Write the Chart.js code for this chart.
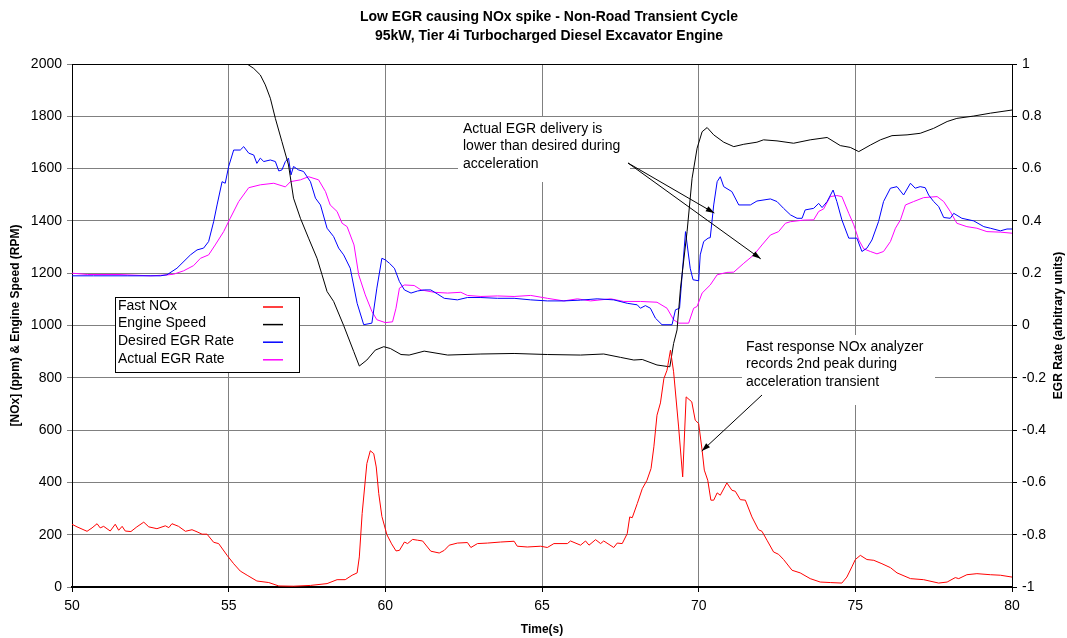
<!DOCTYPE html>
<html>
<head>
<meta charset="utf-8">
<script src="https://cdn.jsdelivr.net/npm/chart.js@4.4.0/dist/chart.umd.min.js"></script>
<style>
  body { margin: 0; background: #fff; }
  canvas { display: block; }
</style>
</head>
<body>
<canvas id="egr-chart" width="1067" height="638"></canvas>
<script>
// --- DATA ---
const titleLines = ['Low EGR causing NOx spike - Non-Road Transient Cycle', '95kW, Tier 4i Turbocharged Diesel Excavator Engine'];
const seriesNames = ['Fast NOx', 'Engine Speed', 'Desired EGR Rate', 'Actual EGR Rate'];
const seriesColors = ['#ff0000', '#000000', '#0000ff', '#ff00ff'];

// Fast NOx (ppm), left axis
const noxTime = [50.0, 50.16, 50.48, 50.64, 50.8, 50.9, 51.01, 51.22, 51.38, 51.49, 51.6, 51.7, 51.88, 52.07, 52.29, 52.45, 52.71, 52.98, 53.09, 53.19, 53.4, 53.62, 53.83, 53.99, 54.15, 54.31, 54.52, 54.68, 54.95, 55.16, 55.37, 55.59, 55.9, 56.28, 56.6, 57.07, 57.61, 58.14, 58.46, 58.72, 58.94, 59.1, 59.17, 59.26, 59.41, 59.52, 59.63, 59.71, 59.79, 59.89, 60.05, 60.2, 60.34, 60.45, 60.61, 60.71, 60.87, 61.03, 61.19, 61.45, 61.72, 61.88, 62.04, 62.3, 62.62, 62.73, 62.94, 63.26, 63.68, 64.11, 64.21, 64.53, 64.96, 65.17, 65.38, 65.81, 65.91, 66.23, 66.39, 66.5, 66.71, 66.87, 66.97, 67.29, 67.4, 67.56, 67.72, 67.8, 67.88, 68.04, 68.2, 68.35, 68.48, 68.57, 68.67, 68.78, 68.89, 68.99, 69.1, 69.2, 69.36, 69.49, 69.6, 69.78, 69.89, 70.0, 70.11, 70.18, 70.29, 70.39, 70.48, 70.59, 70.69, 70.9, 71.06, 71.17, 71.33, 71.49, 71.7, 71.91, 72.02, 72.18, 72.39, 72.55, 72.71, 72.98, 73.24, 73.56, 73.88, 74.2, 74.57, 74.73, 74.89, 75.0, 75.16, 75.37, 75.59, 75.85, 76.12, 76.33, 76.76, 77.18, 77.66, 77.93, 78.19, 78.3, 78.56, 78.88, 79.31, 79.63, 80.0];
const noxValues = [240, 230, 213, 226, 242, 226, 232, 214, 240, 217, 232, 214, 212, 230, 248, 230, 223, 234, 227, 242, 232, 213, 219, 211, 202, 202, 171, 166, 121, 89, 61, 45, 23, 17, 4, 3, 6, 13, 28, 28, 45, 54, 115, 281, 472, 521, 510, 459, 357, 270, 200, 165, 138, 140, 172, 166, 182, 179, 176, 137, 130, 140, 160, 168, 170, 151, 166, 168, 172, 175, 156, 153, 156, 151, 166, 166, 176, 160, 176, 160, 181, 166, 176, 151, 168, 166, 204, 268, 265, 319, 376, 408, 453, 536, 657, 704, 797, 829, 906, 823, 612, 421, 727, 708, 638, 625, 523, 447, 408, 332, 332, 360, 351, 398, 370, 366, 334, 332, 268, 219, 213, 179, 134, 125, 105, 64, 54, 32, 19, 17, 15, 38, 77, 105, 121, 105, 102, 89, 74, 54, 32, 28, 15, 19, 36, 32, 47, 51, 47, 45, 38];

// Engine speed (RPM), left axis
const speedTime = [55.3, 55.59, 55.8, 56.01, 56.17, 56.33, 56.49, 56.7, 56.91, 57.07, 57.29, 57.55, 57.82, 57.98, 58.14, 58.35, 58.67, 58.99, 59.17, 59.41, 59.68, 59.95, 60.16, 60.5, 60.76, 61.24, 61.99, 63.05, 64.11, 65.17, 66.23, 66.97, 67.51, 67.93, 68.2, 68.67, 69.08, 69.2, 69.31, 69.42, 69.63, 69.79, 69.95, 70.11, 70.27, 70.48, 70.8, 71.12, 71.44, 71.86, 72.07, 72.5, 73.03, 73.56, 74.1, 74.52, 74.84, 75.11, 75.48, 75.8, 76.17, 76.65, 77.07, 77.5, 77.93, 78.24, 78.78, 79.31, 80.0];
const speedValues = [2040, 2000, 1983, 1958, 1920, 1869, 1792, 1703, 1614, 1487, 1410, 1334, 1257, 1194, 1130, 1092, 1000, 901, 845, 868, 906, 919, 912, 889, 887, 902, 887, 891, 893, 889, 887, 891, 878, 868, 870, 849, 842, 931, 983, 1143, 1359, 1563, 1678, 1741, 1757, 1729, 1701, 1684, 1693, 1701, 1710, 1706, 1697, 1710, 1719, 1688, 1681, 1665, 1690, 1710, 1726, 1729, 1735, 1754, 1780, 1792, 1801, 1812, 1824];

// Desired EGR rate (arbitrary units), right axis
const desiredTime = [50.0, 50.69, 51.76, 52.82, 53.03, 53.35, 53.78, 53.99, 54.2, 54.36, 54.52, 54.63, 54.79, 54.89, 55.0, 55.16, 55.37, 55.48, 55.64, 55.8, 55.9, 56.01, 56.12, 56.33, 56.49, 56.6, 56.7, 56.81, 56.91, 56.99, 57.07, 57.23, 57.39, 57.61, 57.77, 57.93, 58.14, 58.35, 58.51, 58.67, 58.88, 59.1, 59.31, 59.57, 59.73, 59.89, 60.0, 60.13, 60.29, 60.45, 60.61, 60.82, 61.03, 61.24, 61.45, 61.67, 61.88, 62.3, 62.62, 63.05, 63.58, 64.11, 64.64, 65.17, 65.7, 66.23, 66.76, 67.29, 67.72, 68.04, 68.14, 68.3, 68.46, 68.62, 68.83, 69.15, 69.26, 69.39, 69.58, 69.73, 69.82, 70.0, 70.05, 70.16, 70.3, 70.37, 70.48, 70.59, 70.69, 70.8, 71.06, 71.28, 71.65, 71.86, 72.29, 72.5, 72.71, 72.93, 73.14, 73.3, 73.4, 73.67, 73.83, 73.94, 74.1, 74.29, 74.41, 74.57, 74.79, 75.05, 75.21, 75.37, 75.53, 75.74, 75.9, 76.12, 76.33, 76.54, 76.76, 76.91, 77.07, 77.23, 77.34, 77.5, 77.66, 77.82, 78.03, 78.14, 78.4, 78.78, 79.1, 79.31, 79.63, 79.84, 80.0];
const desiredValues = [0.19, 0.19, 0.19, 0.19, 0.194, 0.219, 0.27, 0.289, 0.296, 0.321, 0.397, 0.461, 0.55, 0.544, 0.608, 0.671, 0.671, 0.684, 0.659, 0.652, 0.62, 0.64, 0.627, 0.633, 0.627, 0.591, 0.595, 0.627, 0.64, 0.576, 0.608, 0.595, 0.589, 0.55, 0.487, 0.461, 0.372, 0.34, 0.296, 0.27, 0.219, 0.085, 0.003, 0.009, 0.143, 0.257, 0.251, 0.238, 0.219, 0.168, 0.136, 0.124, 0.132, 0.136, 0.136, 0.12, 0.104, 0.098, 0.107, 0.107, 0.104, 0.104, 0.098, 0.094, 0.094, 0.097, 0.102, 0.098, 0.085, 0.079, 0.066, 0.076, 0.066, 0.028, 0.003, 0.003, 0.06, 0.066, 0.359, 0.219, 0.175, 0.171, 0.27, 0.321, 0.334, 0.336, 0.461, 0.55, 0.569, 0.531, 0.512, 0.461, 0.461, 0.476, 0.484, 0.474, 0.448, 0.423, 0.41, 0.41, 0.442, 0.448, 0.467, 0.451, 0.474, 0.518, 0.474, 0.404, 0.334, 0.334, 0.283, 0.296, 0.327, 0.397, 0.474, 0.525, 0.531, 0.499, 0.544, 0.525, 0.531, 0.527, 0.499, 0.474, 0.455, 0.413, 0.41, 0.429, 0.41, 0.4, 0.378, 0.372, 0.362, 0.369, 0.369];

// Actual EGR rate (arbitrary units), right axis
const actualTime = [50.0, 50.5, 51.5, 52.5, 53.0, 53.24, 53.56, 53.88, 54.1, 54.36, 54.57, 54.84, 55.05, 55.32, 55.64, 56.01, 56.44, 56.81, 56.97, 57.29, 57.55, 57.87, 58.09, 58.24, 58.46, 58.62, 58.78, 59.0, 59.15, 59.36, 59.57, 59.73, 60.0, 60.23, 60.34, 60.45, 60.61, 60.92, 61.14, 61.56, 61.99, 62.41, 62.62, 63.05, 63.58, 64.11, 64.64, 65.17, 65.7, 66.13, 66.55, 67.19, 67.61, 68.14, 68.67, 68.99, 69.2, 69.36, 69.68, 69.84, 69.95, 70.11, 70.37, 70.59, 70.9, 71.12, 71.44, 71.76, 72.02, 72.29, 72.55, 72.77, 72.93, 73.35, 73.67, 73.83, 73.99, 74.2, 74.41, 74.57, 74.79, 74.95, 75.11, 75.27, 75.48, 75.69, 75.9, 76.12, 76.28, 76.44, 76.6, 76.86, 77.18, 77.61, 77.82, 78.03, 78.24, 78.56, 78.88, 79.2, 79.63, 80.0];
const actualValues = [0.2, 0.195, 0.195, 0.19, 0.193, 0.196, 0.209, 0.229, 0.257, 0.27, 0.308, 0.359, 0.41, 0.474, 0.527, 0.538, 0.544, 0.53, 0.55, 0.557, 0.569, 0.557, 0.512, 0.461, 0.436, 0.391, 0.378, 0.308, 0.194, 0.117, 0.054, 0.022, 0.011, 0.014, 0.066, 0.143, 0.155, 0.153, 0.136, 0.127, 0.124, 0.127, 0.115, 0.111, 0.113, 0.111, 0.115, 0.104, 0.094, 0.102, 0.094, 0.102, 0.092, 0.092, 0.089, 0.066, 0.022, 0.009, 0.009, 0.066, 0.073, 0.124, 0.155, 0.194, 0.203, 0.204, 0.238, 0.27, 0.308, 0.346, 0.359, 0.391, 0.397, 0.403, 0.404, 0.436, 0.446, 0.493, 0.497, 0.493, 0.429, 0.385, 0.327, 0.293, 0.283, 0.274, 0.283, 0.321, 0.372, 0.404, 0.461, 0.474, 0.489, 0.493, 0.474, 0.436, 0.391, 0.378, 0.372, 0.359, 0.357, 0.353];

// Callout texts
const note1Lines = ['Actual EGR delivery is', 'lower than desired during', 'acceleration'];
const note2Lines = ['Fast response NOx analyzer', 'records 2nd peak during', 'acceleration transient'];

const FONT = '"Liberation Sans", Arial, Helvetica, sans-serif';

function toPoints(times, values) {
    return times.map((t, i) => ({ x: t, y: values[i] }));
}

function makeDataset(idx, times, values, axis) {
    return {
        label: seriesNames[idx],
        data: toPoints(times, values),
        borderColor: seriesColors[idx],
        borderWidth: 1,
        pointRadius: 0,
        tension: 0,
        fill: false,
        yAxisID: axis
    };
}

// helper: draw a line with a small filled arrow head at its end
function drawArrow(ctx, x1, y1, x2, y2) {
    ctx.beginPath();
    ctx.moveTo(x1, y1);
    ctx.lineTo(x2, y2);
    ctx.stroke();
    const ang = Math.atan2(y2 - y1, x2 - x1);
    const len = 9, spread = 0.32;
    ctx.beginPath();
    ctx.moveTo(x2, y2);
    ctx.lineTo(x2 - len * Math.cos(ang - spread), y2 - len * Math.sin(ang - spread));
    ctx.lineTo(x2 - len * Math.cos(ang + spread), y2 - len * Math.sin(ang + spread));
    ctx.closePath();
    ctx.fill();
}

// Title, framed legend, call-out boxes and right axis title
const decorPlugin = {
    id: 'decor',
    beforeDatasetsDraw(chart) {
        const ctx = chart.ctx;
        ctx.save();
        ctx.fillStyle = '#fff';
        // white boxes behind the call-out texts (they hide the grid)
        ctx.fillRect(458, 117, 172, 65);
        ctx.fillRect(742, 335, 193, 70);
        ctx.restore();
    },
    afterDatasetsDraw(chart) {
        const ctx = chart.ctx;
        const area = chart.chartArea;
        const x = chart.scales.x, y = chart.scales.y, y2 = chart.scales.y2;
        ctx.save();

        // top frame line
        ctx.strokeStyle = '#000';
        ctx.lineWidth = 1;
        ctx.beginPath();
        ctx.moveTo(area.left, area.top + 0.5);
        ctx.lineTo(area.right, area.top + 0.5);
        ctx.stroke();

        // title
        ctx.fillStyle = '#000';
        ctx.font = 'bold 14px ' + FONT;
        ctx.textAlign = 'center';
        ctx.textBaseline = 'middle';
        ctx.fillText(titleLines[0], 549, 17);
        ctx.fillText(titleLines[1], 549, 36);

        // legend box
        ctx.fillStyle = '#fff';
        ctx.fillRect(115.5, 297.5, 184, 75);
        ctx.strokeStyle = '#000';
        ctx.strokeRect(115.5, 297.5, 184, 75);
        ctx.font = '14px ' + FONT;
        ctx.textAlign = 'left';
        seriesNames.forEach((name, i) => {
            const rowY = 306 + i * 17.6;
            ctx.fillStyle = '#000';
            ctx.fillText(name, 118, rowY);
            ctx.strokeStyle = seriesColors[i];
            ctx.lineWidth = 1.5;
            ctx.beginPath();
            ctx.moveTo(263, rowY + 1);
            ctx.lineTo(283, rowY + 1);
            ctx.stroke();
        });

        // call-out texts
        ctx.fillStyle = '#000';
        ctx.font = '14px ' + FONT;
        note1Lines.forEach((s, i) => ctx.fillText(s, 463, 129 + i * 17.5));
        note2Lines.forEach((s, i) => ctx.fillText(s, 746, 347 + i * 17.5));

        // arrows (targets taken from the data curves)
        ctx.strokeStyle = '#000';
        ctx.fillStyle = '#000';
        ctx.lineWidth = 1;
        drawArrow(ctx, 628, 163, x.getPixelForValue(70.5), y2.getPixelForValue(0.43));
        drawArrow(ctx, 628, 163, x.getPixelForValue(71.98), y2.getPixelForValue(0.255));
        drawArrow(ctx, 762, 395, x.getPixelForValue(70.1), y.getPixelForValue(520));

        // right axis title, reads bottom to top
        ctx.translate(1059, (area.top + area.bottom) / 2);
        ctx.rotate(-Math.PI / 2);
        ctx.font = 'bold 12px ' + FONT;
        ctx.textAlign = 'center';
        ctx.fillText('EGR Rate (arbitrary units)', 0, 0);
        ctx.restore();
    }
};

const ctx = document.getElementById('egr-chart');

new Chart(ctx, {
    type: 'line',
    data: {
        datasets: [
            makeDataset(0, noxTime, noxValues, 'y'),
            makeDataset(1, speedTime, speedValues, 'y'),
            makeDataset(2, desiredTime, desiredValues, 'y2'),
            makeDataset(3, actualTime, actualValues, 'y2')
        ]
    },
    options: {
        responsive: false,
        animation: false,
        devicePixelRatio: 1,
        layout: { padding: { top: 64, left: 0, right: 0, bottom: 0 } },
        plugins: {
            legend: { display: false },
            title: { display: false },
            tooltip: { enabled: false }
        },
        scales: {
            x: {
                type: 'linear',
                min: 50,
                max: 80,
                ticks: { stepSize: 5, color: '#000', font: { family: FONT, size: 14 }, padding: 6 },
                grid: { color: '#808080', tickLength: 5, tickColor: '#000' },
                border: { color: '#000', width: 2 },
                title: { display: true, text: 'Time(s)', color: '#000', font: { family: FONT, size: 12, weight: 'bold' }, padding: { top: 0, bottom: 1 } },
                afterFit: (s) => { s.height = 51; }
            },
            y: {
                position: 'left',
                min: 0,
                max: 2000,
                ticks: { stepSize: 200, color: '#000', font: { family: FONT, size: 14 }, padding: 5, callback: (v) => String(v) },
                grid: { color: '#808080', tickLength: 5, tickColor: '#808080' },
                border: { color: '#000', width: 1 },
                title: { display: true, text: '[NOx] (ppm) & Engine Speed (RPM)', color: '#000', font: { family: FONT, size: 12, weight: 'bold' }, padding: { top: 8, bottom: 0 } },
                afterFit: (s) => { s.width = 72; }
            },
            y2: {
                position: 'right',
                min: -1,
                max: 1,
                ticks: { stepSize: 0.2, color: '#000', font: { family: FONT, size: 14 }, padding: 5, callback: (v) => String(+v.toFixed(1)) },
                grid: { drawOnChartArea: false, tickLength: 5, color: '#000' },
                border: { color: '#000', width: 1 },
                afterFit: (s) => { s.width = 55; }
            }
        }
    },
    plugins: [decorPlugin]
});
</script>
</body>
</html>
